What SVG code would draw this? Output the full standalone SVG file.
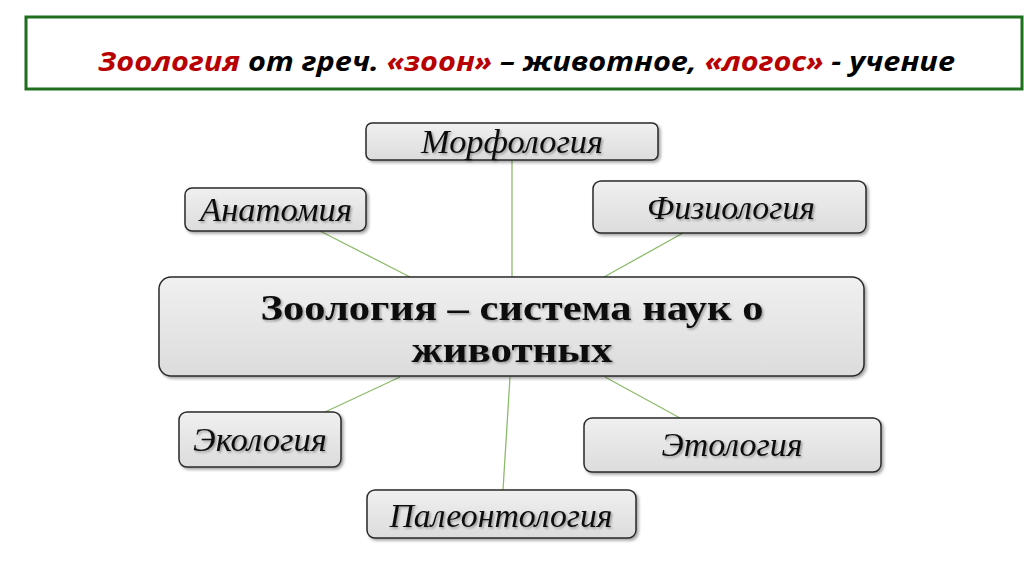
<svg xmlns="http://www.w3.org/2000/svg" width="1024" height="574" viewBox="0 0 1024 574">
<defs>
<linearGradient id="g" x1="0" y1="0" x2="0" y2="1">
<stop offset="0" stop-color="#f0f0f0"/>
<stop offset="1" stop-color="#dcdcdc"/>
</linearGradient>
<filter id="sh" x="-10%" y="-20%" width="130%" height="150%">
<feDropShadow dx="2" dy="2" stdDeviation="1.5" flood-color="#000" flood-opacity="0.35"/>
</filter>
<filter id="ts" x="-5%" y="-20%" width="115%" height="150%">
<feDropShadow dx="1.5" dy="1.5" stdDeviation="1" flood-color="#000" flood-opacity="0.35"/>
</filter>
</defs>
<style>
.box{fill:url(#g);stroke:#2a2a2a;stroke-width:1.5;filter:url(#sh)}
.lbl{font-family:"Liberation Serif",serif;font-style:italic;font-size:33px;fill:#111;text-anchor:middle;filter:url(#ts)}
.main{font-family:"Liberation Serif",serif;font-weight:bold;font-size:36px;fill:#111;text-anchor:middle;filter:url(#ts)}
.con{stroke:#8dbb6c;stroke-width:1.3;fill:none}
.ttl{font-family:"Open Sans","Liberation Sans",sans-serif;font-weight:bold;font-style:italic;font-size:26px;fill:#000}
.red{fill:#b80000}
</style>
<rect width="1024" height="574" fill="#fff"/>
<g id="title">
<rect x="26" y="17" width="996" height="72" fill="#fff" stroke="#1e6e1e" stroke-width="3"/>
<text class="ttl" x="98" y="71" textLength="857" lengthAdjust="spacingAndGlyphs"><tspan class="red">Зоология</tspan> от греч. <tspan class="red">«зоон»</tspan> – животное,  <tspan class="red">«логос»</tspan> - учение</text>
</g>
<g id="connectors">
<line class="con" x1="512" y1="160" x2="512" y2="277"/>
<line class="con" x1="320" y1="231" x2="410" y2="277"/>
<line class="con" x1="683" y1="233" x2="604" y2="277"/>
<line class="con" x1="325" y1="412" x2="400" y2="377"/>
<line class="con" x1="510" y1="377" x2="503" y2="490"/>
<line class="con" x1="605" y1="377" x2="680" y2="418"/>
</g>
<g id="center">
<rect class="box" x="159" y="277" width="705" height="99" rx="12"/>
<text class="main" x="512" y="320" textLength="503" lengthAdjust="spacingAndGlyphs">Зоология – система наук о</text>
<text class="main" x="512" y="362" textLength="201" lengthAdjust="spacingAndGlyphs">животных</text>
</g>
<g id="morfologiya">
<rect class="box" x="366" y="123" width="292" height="37" rx="6"/>
<text class="lbl" x="512" y="153" textLength="182" lengthAdjust="spacingAndGlyphs">Морфология</text>
</g>
<g id="anatomiya">
<rect class="box" x="185" y="188" width="181" height="43" rx="7"/>
<text class="lbl" x="276" y="221" textLength="152" lengthAdjust="spacingAndGlyphs">Анатомия</text>
</g>
<g id="fiziologiya">
<rect class="box" x="593" y="181" width="273" height="52" rx="8"/>
<text class="lbl" x="731" y="219" textLength="168" lengthAdjust="spacingAndGlyphs">Физиология</text>
</g>
<g id="ekologiya">
<rect class="box" x="179" y="412" width="162" height="55" rx="8"/>
<text class="lbl" x="260" y="451" textLength="134" lengthAdjust="spacingAndGlyphs">Экология</text>
</g>
<g id="etologiya">
<rect class="box" x="584" y="418" width="297" height="54" rx="8"/>
<text class="lbl" x="732" y="456" textLength="141" lengthAdjust="spacingAndGlyphs">Этология</text>
</g>
<g id="paleontologiya">
<rect class="box" x="367" y="490" width="269" height="48" rx="8"/>
<text class="lbl" x="501" y="527" textLength="223" lengthAdjust="spacingAndGlyphs">Палеонтология</text>
</g>
</svg>
